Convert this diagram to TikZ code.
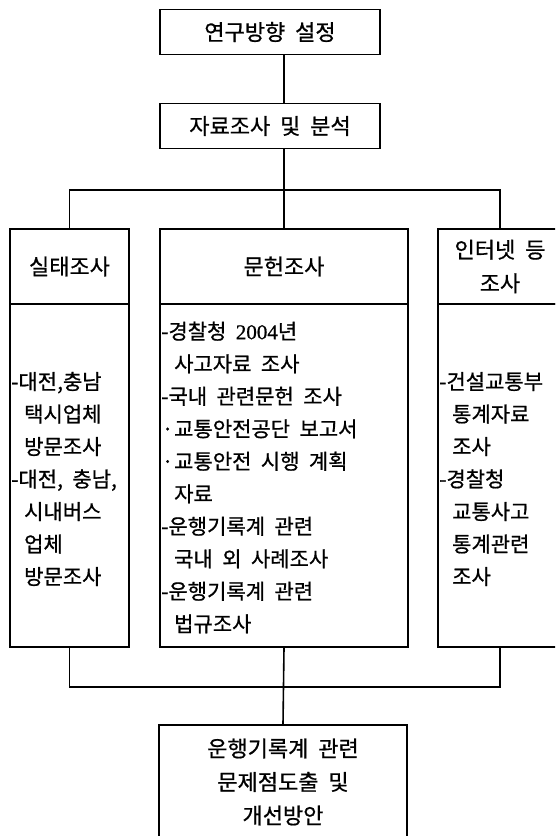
\documentclass[tikz,border=0pt]{standalone}
\usepackage{fontspec}
\setmainfont[WordSpace=2,FakeBold=0.8]{Noto Sans CJK KR}
\newfontfamily\numfont[FakeBold=0.8]{Liberation Serif}
\newcommand\myind{\hspace*{13pt}}
\newcommand\mydot{\makebox[13pt][c]{·}}
\begin{document}
\begin{tikzpicture}[x=1pt,y=-1pt,
  box/.style={draw, line width=1.6pt, inner sep=0pt, align=center,
    font=\fontsize{22}{33.5}\selectfont},
  bodytext/.style={inner sep=0pt, align=left, anchor=west,
    font=\fontsize{21}{32.5}\selectfont},
  link/.style={draw, line width=1.6pt}]
\useasboundingbox (0,0) rectangle (555,836);
\clip (0,0) rectangle (555,836);
% top boxes
\node[box, minimum width=220pt, minimum height=45pt] (t1) at (270,32) {연구방향 설정};
\node[box, minimum width=220pt, minimum height=45pt] (t2) at (270,126) {자료조사 및 분석};
% column headers
\node[box, minimum width=119pt, minimum height=75pt] (lh) at (69.5,266.5) {실태조사};
\node[box, minimum width=248pt, minimum height=75pt] (ch) at (284,266.5) {문헌조사};
\node[box, minimum width=124pt, minimum height=75pt] (rh) at (500,266.5) {인터넷 등\\조사};
% column bodies
\node[box, minimum width=119pt, minimum height=343pt] (lbody) at (69.5,475.5) {};
\node[box, minimum width=248pt, minimum height=343pt] (cbody) at (284,475.5) {};
\node[box, minimum width=124pt, minimum height=343pt] (rbody) at (500,475.5) {};
% body texts
\node[bodytext] (ltext) at (11,479) {-대전,충남\\ \myind 택시업체\\ \myind 방문조사\\ -대전, 충남,\\ \myind 시내버스\\ \myind 업체\\ \myind 방문조사};
\node[bodytext] (ctext) at (161,477.5) {-경찰청 {\numfont 2004}년\\ \myind 사고자료 조사\\ -국내 관련문헌 조사\\ \mydot 교통안전공단 보고서\\ \mydot 교통안전 시행 계획\\ \myind 자료\\ -운행기록계 관련\\ \myind 국내 외 사례조사\\ -운행기록계 관련\\ \myind 법규조사};
\node[bodytext] (rtext) at (439,479) {-건설교통부\\ \myind 통계자료\\ \myind 조사\\ -경찰청\\ \myind 교통사고\\ \myind 통계관련\\ \myind 조사};
% final box
\node[box, minimum width=248pt, minimum height=114pt] (fin) at (283,782) {운행기록계 관련\\문제점도출 및\\개선방안};
% junctions
\coordinate (jtop) at (284,190);
\coordinate (jbot) at (284,687);
% connectors
\draw[link] (t1.south -| ch.north) -- (t2.north -| ch.north);
\draw[link] (t2.south -| ch.north) -- (ch.north);
\draw[link] (lh.north) |- (jtop) -| (rh.north);
\draw[link] (lbody.south) |- (jbot) -| (rbody.south);
\draw[link] (cbody.south) -- (fin.north);
\end{tikzpicture}
\end{document}
